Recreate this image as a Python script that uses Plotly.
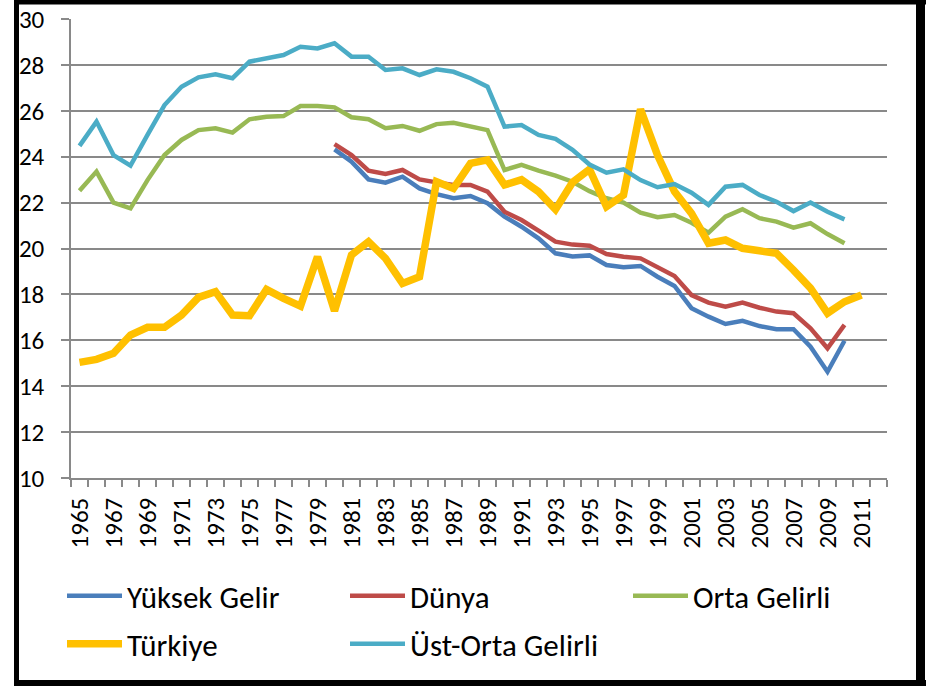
import plotly.graph_objects as go

years_main = list(range(1965, 2011))
years_80 = list(range(1980, 2011))
years_tr = list(range(1965, 2012))

yuksek = [24.32, 23.78, 23.01, 22.87, 23.13, 22.62, 22.37, 22.19, 22.29, 21.97, 21.39, 20.95,
          20.44, 19.79, 19.65, 19.7, 19.28, 19.18, 19.24, 18.77, 18.37, 17.4, 17.03, 16.71,
          16.85, 16.62, 16.48, 16.48, 15.72, 14.63, 15.98]
dunya = [24.55, 24.07, 23.39, 23.25, 23.42, 23.01, 22.88, 22.77, 22.77, 22.48, 21.6, 21.24,
         20.78, 20.3, 20.17, 20.12, 19.76, 19.64, 19.57, 19.18, 18.8, 17.97, 17.64, 17.46,
         17.64, 17.42, 17.25, 17.18, 16.52, 15.65, 16.67]
orta = [22.52, 23.35, 22.0, 21.75, 22.98, 24.07, 24.73, 25.16, 25.24, 25.05, 25.63, 25.74,
        25.77, 26.21, 26.21, 26.15, 25.72, 25.63, 25.24, 25.34, 25.13, 25.42, 25.48, 25.34,
        25.16, 23.42, 23.64, 23.39, 23.18, 22.91, 22.5, 22.19, 22.0, 21.56, 21.36, 21.46,
        21.12, 20.69, 21.39, 21.71, 21.32, 21.17, 20.91, 21.1, 20.63, 20.23]
turkiye = [15.04, 15.17, 15.43, 16.23, 16.57, 16.57, 17.1, 17.87, 18.12, 17.1, 17.07, 18.22,
           17.83, 17.49, 19.64, 17.28, 19.72, 20.3, 19.57, 18.48, 18.77, 22.91, 22.62, 23.71,
           23.86, 22.77, 23.0, 22.48, 21.7, 22.88, 23.45, 21.82, 22.33, 26.07, 24.07, 22.48,
           21.53, 20.23, 20.37, 20.01, 19.9, 19.79, 19.06, 18.27, 17.18, 17.68, 17.97]
ust_orta = [24.47, 25.53, 24.07, 23.61, 24.95, 26.25, 27.05, 27.46, 27.59, 27.42, 28.14, 28.29,
            28.43, 28.79, 28.72, 28.94, 28.36, 28.36, 27.78, 27.85, 27.56, 27.81, 27.7, 27.42,
            27.05, 25.31, 25.38, 24.95, 24.78, 24.3, 23.66, 23.3, 23.45, 22.98, 22.67, 22.81,
            22.43, 21.9, 22.69, 22.77, 22.33, 22.04, 21.63, 22.0, 21.6, 21.27]

tick_years = list(range(1965, 2012, 2))
tick_labels = [str(y) for y in tick_years]
y_ticks = list(range(10, 31, 2))

FONT = "Calibri, Carlito, Lato, sans-serif"

# plot area in pixels
L, R, T, B = 71, 887, 19, 478
PW, PH = R - L, B - T


def px(x):
    return (x - L) / PW


def py(y):
    return (B - y) / PH


fig = go.Figure()
series = [
    ("Yüksek Gelir", years_80, yuksek, "#4A7EBB", 4.5, "legend"),
    ("Dünya", years_80, dunya, "#BE4B48", 4.5, "legend"),
    ("Orta Gelirli", years_main, orta, "#98B954", 4.5, "legend"),
    ("Türkiye", years_tr, turkiye, "#FFC000", 7.5, "legend2"),
    ("Üst-Orta Gelirli", years_main, ust_orta, "#4BACC6", 4.5, "legend2"),
]
for name, xs, ys, col, w, lg in series:
    fig.add_trace(go.Scatter(x=xs, y=ys, name=name, mode="lines", legend=lg,
                             line=dict(color=col, width=w)))

leg_common = dict(orientation="h", xanchor="left", yanchor="middle",
                  font=dict(size=31, family=FONT), entrywidth=213, itemwidth=55,
                  bgcolor="rgba(0,0,0,0)")

fig.update_layout(
    width=926, height=686,
    margin=dict(l=L, r=926 - R, t=T, b=686 - B, autoexpand=False),
    paper_bgcolor="white", plot_bgcolor="white",
    font=dict(family=FONT, color="black"),
    showlegend=True,
    legend=dict(x=px(62), y=py(596), **leg_common),
    legend2=dict(x=px(62), y=py(644), **leg_common),
    xaxis=dict(range=[1964.5, 2012.5], tickmode="array", tickvals=tick_years,
               ticktext=tick_labels, tickangle=-90, ticks="", showgrid=False,
               showline=True, linecolor="#898989", linewidth=1.5, automargin=False,
               tickfont=dict(size=25, family=FONT), ticklabelstandoff=8,
               minor=dict(tickmode="linear", tick0=1964.5, dtick=1, ticks="outside",
                          ticklen=7, tickcolor="#898989", tickwidth=1.5, showgrid=False),
               zeroline=False),
    yaxis=dict(range=[10, 30], tickmode="array", tickvals=y_ticks, ticks="outside",
               ticklen=8, tickcolor="#898989", tickwidth=1.5, automargin=False,
               showgrid=True, gridcolor="#898989", gridwidth=1.5,
               showline=True, linecolor="#898989", linewidth=1.5,
               tickfont=dict(size=25, family=FONT), ticklabelstandoff=12,
               zeroline=False),
)

# outer black frame (pixel positions)
frame = [
    (16.5, -2, 16.5, 686, 5),     # left
    (920.5, -2, 920.5, 686, 9),   # right
    (14, 2, 926, 2, 5),           # top
    (14, 683, 926, 683, 6),       # bottom
]
for x0, y0, x1, y1, w in frame:
    fig.add_shape(type="line", xref="paper", yref="paper",
                  x0=px(x0), y0=py(y0), x1=px(x1), y1=py(y1),
                  line=dict(color="black", width=w), layer="above")

fig.write_html("out.html", config={"displayModeBar": False},
               post_script="document.body.style.margin='0px';")
